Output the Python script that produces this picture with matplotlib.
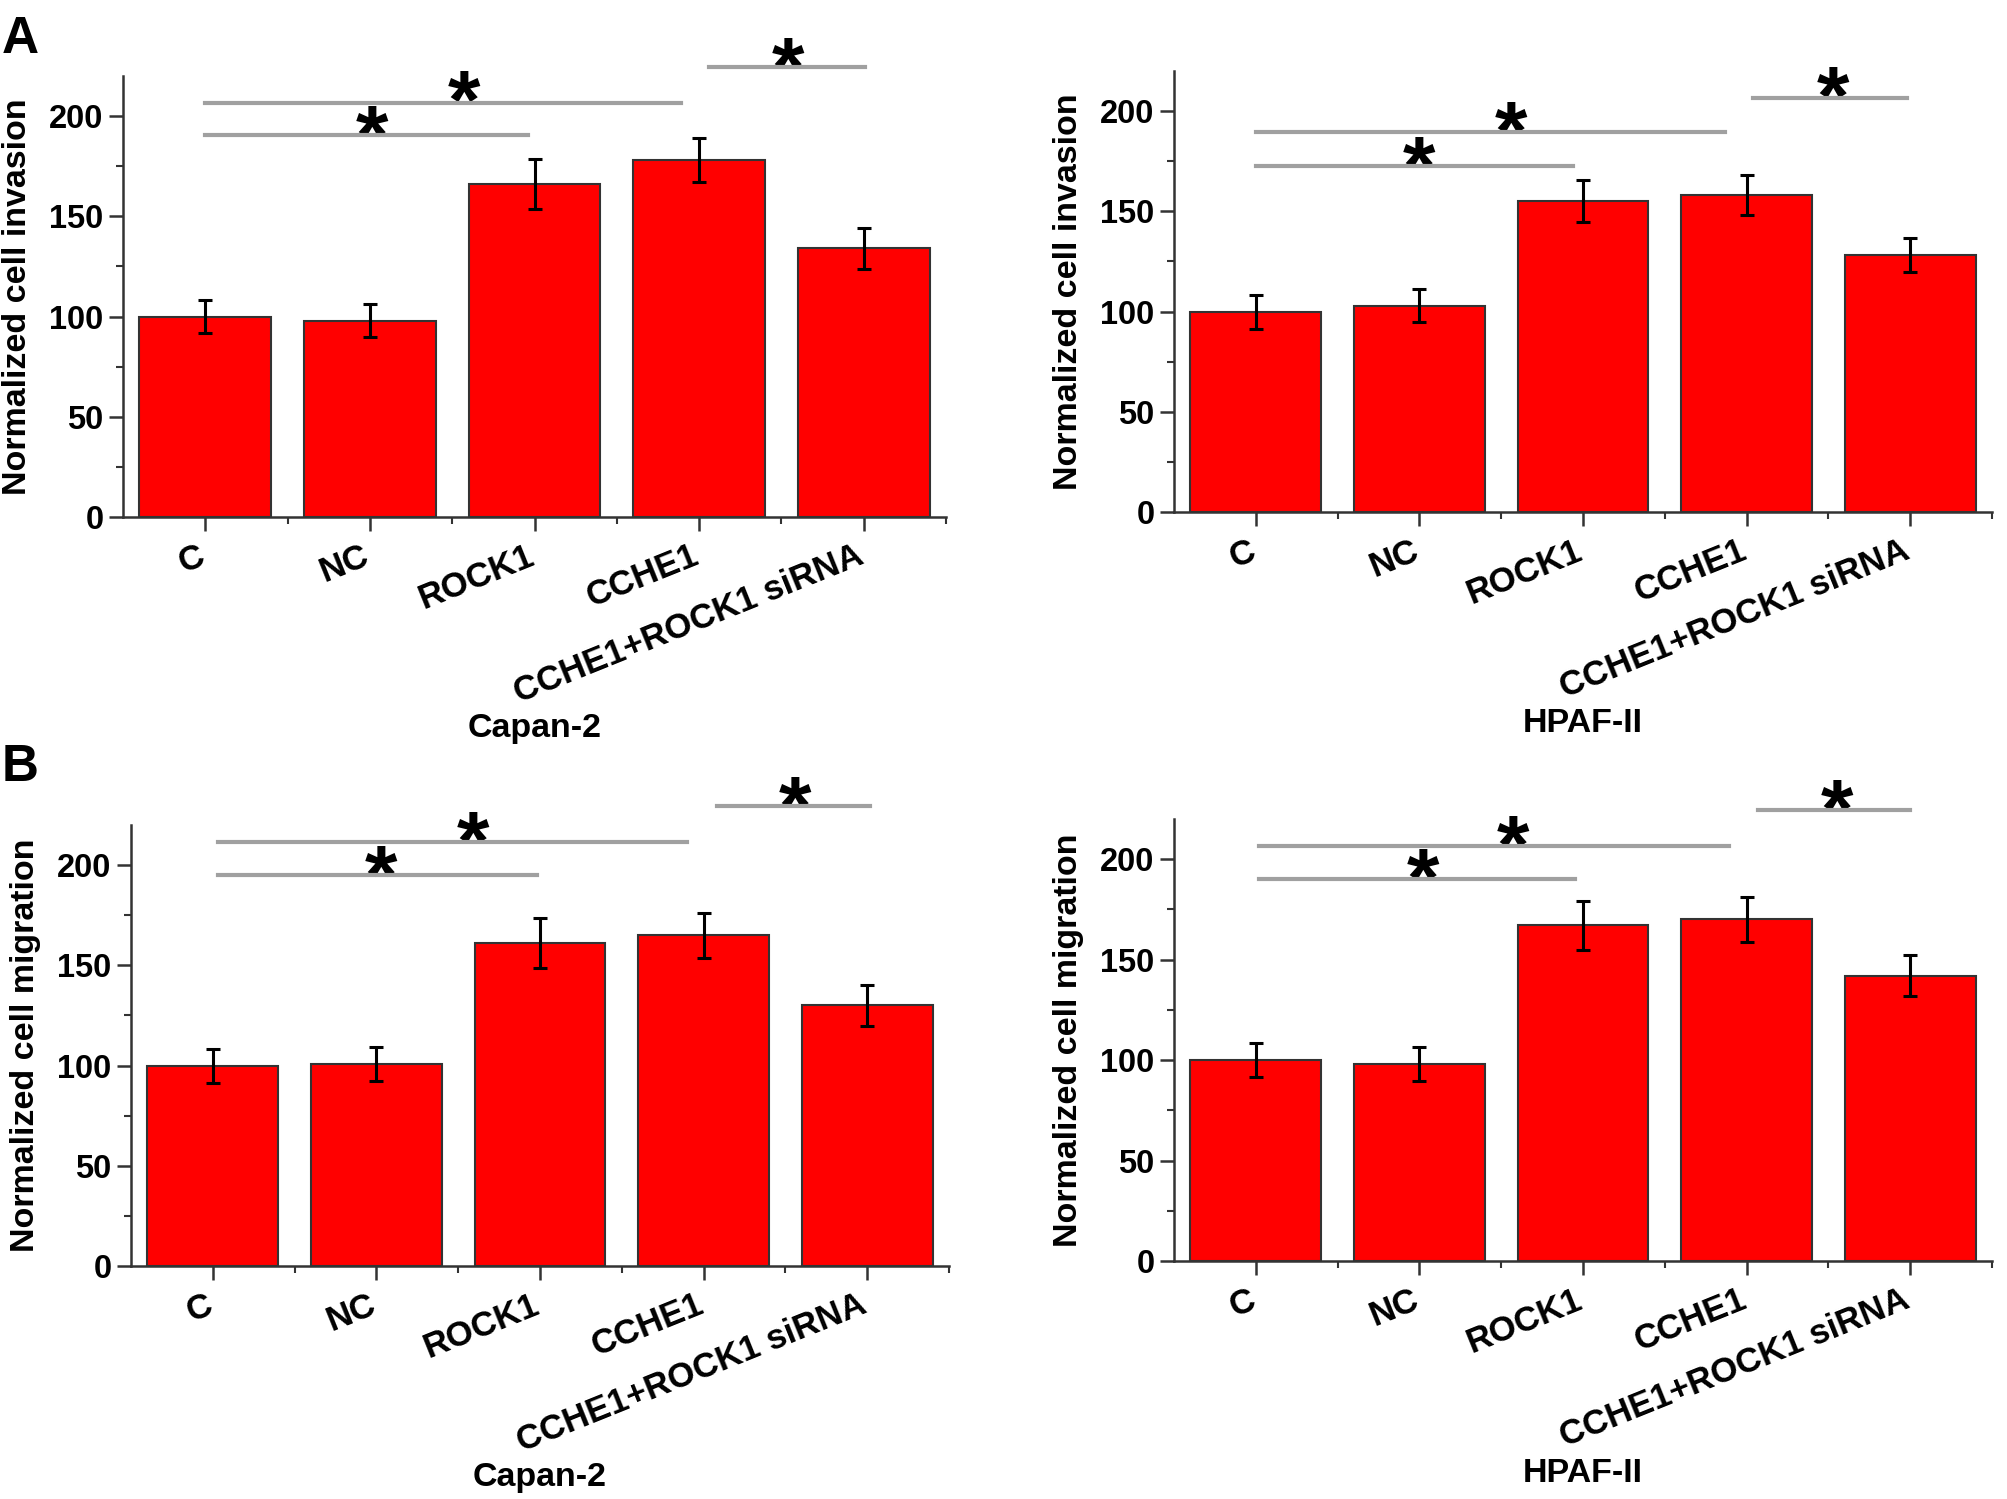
import matplotlib
matplotlib.use("Agg")
import matplotlib.pyplot as plt
import matplotlib.transforms as mtrans
from matplotlib.ticker import MultipleLocator, FixedLocator

plt.rcParams['font.family'] = ['Liberation Sans', 'DejaVu Sans']
plt.rcParams['font.weight'] = 'bold'

categories = ["C", "NC", "ROCK1", "CCHE1", "CCHE1+ROCK1 siRNA"]

inv_capan_mean = [100, 98, 166, 178, 134]
inv_capan_err = [8.3, 8.2, 12.5, 11, 10.4]
inv_hpaf_mean = [100, 103, 155, 158, 128]
inv_hpaf_err = [8.5, 8, 10.5, 10, 8.5]
mig_capan_mean = [100, 101, 161, 165, 130]
mig_capan_err = [8.5, 8.5, 12.5, 11.3, 10.4]
mig_hpaf_mean = [100, 98, 167, 170, 142]
mig_hpaf_err = [8.3, 8.3, 12, 11.2, 10.3]

# significance brackets: (x_start, x_end, y)
sig_lines_A1 = [(0.0, 1.96, 190.8), (0.0, 2.89, 206.7), (3.06, 4.01, 224.4)]
sig_stars_A1 = [(1.01, 199.8), (1.57, 217.2), (3.54, 234.0)]
sig_lines_A2 = [(0.0, 1.94, 172.7), (0.0, 2.87, 189.5), (3.04, 3.98, 206.7)]
sig_stars_A2 = [(1.0, 182.0), (1.56, 199.5), (3.53, 216.7)]
sig_lines_B1 = [(0.03, 1.98, 195.0), (0.03, 2.9, 211.5), (3.08, 4.02, 229.4)]
sig_stars_B1 = [(1.03, 204.5), (1.59, 221.5), (3.56, 239.0)]
sig_lines_B2 = [(0.02, 1.95, 190.2), (0.02, 2.89, 206.7), (3.07, 4.0, 224.6)]
sig_stars_B2 = [(1.02, 199.7), (1.57, 216.5), (3.55, 234.0)]

W, H = 2008, 1499
fig = plt.figure(figsize=(W / 100, H / 100), dpi=100)

def px_axes(l, t, r, b):
    return fig.add_axes([l / W, 1 - b / H, (r - l) / W, (b - t) / H])

panels = [
    (px_axes(123, 76, 946, 517), inv_capan_mean, inv_capan_err, "Normalized cell invasion", "Capan-2", sig_lines_A1, sig_stars_A1),
    (px_axes(1174, 71, 1992, 512), inv_hpaf_mean, inv_hpaf_err, "Normalized cell invasion", "HPAF-II", sig_lines_A2, sig_stars_A2),
    (px_axes(131, 825, 949, 1266), mig_capan_mean, mig_capan_err, "Normalized cell migration", "Capan-2", sig_lines_B1, sig_stars_B1),
    (px_axes(1174, 819, 1992, 1261), mig_hpaf_mean, mig_hpaf_err, "Normalized cell migration", "HPAF-II", sig_lines_B2, sig_stars_B2),
]

star_fs = 60
shift = mtrans.ScaledTranslation(-8 / 100, 0, fig.dpi_scale_trans)
for ax, mean, err, ylab, xlab, lines, stars in panels:
    x = list(range(len(categories)))
    ax.bar(x, mean, width=0.8, color='#ff0000', edgecolor='#333333', linewidth=1.5, zorder=2)
    ax.errorbar(x, mean, yerr=err, fmt='none', ecolor='black', elinewidth=2.2,
                capsize=5, capthick=2.2, zorder=3)
    ax.set_xlim(-0.5, 4.5)
    ax.set_ylim(0, 220)
    for s in ['top', 'right']:
        ax.spines[s].set_visible(False)
    for s in ['left', 'bottom']:
        ax.spines[s].set_linewidth(1.8)
        ax.spines[s].set_color('#333333')
    ax.yaxis.set_major_locator(FixedLocator([0, 50, 100, 150, 200]))
    ax.yaxis.set_minor_locator(MultipleLocator(25))
    ax.xaxis.set_minor_locator(FixedLocator([0.5, 1.5, 2.5, 3.5, 4.5]))
    ax.tick_params(axis='both', which='major', direction='out', length=10, width=1.8, color='#333333')
    ax.tick_params(axis='both', which='minor', direction='out', length=5, width=1.5, color='#333333')
    ax.tick_params(axis='y', which='major', labelsize=23.5, pad=4)
    ax.set_xticks(x)
    ax.set_xticklabels(categories, rotation=22, ha='right', rotation_mode='anchor',
                       fontsize=25, fontweight='bold')
    ax.tick_params(axis='x', which='major', pad=6)
    for lab in ax.get_xticklabels():
        lab.set_transform(lab.get_transform() + shift)
    for lab in ax.get_yticklabels():
        lab.set_fontweight('bold')
    ax.set_ylabel(ylab, fontsize=24.5, fontweight='bold', labelpad=12)
    ax.text(0.5, -0.48, xlab, transform=ax.transAxes, ha='center', va='center',
            fontsize=24.5, fontweight='bold')
    for x0, x1, yy in lines:
        ax.plot([x0, x1], [yy, yy], color='#a0a0a0', linewidth=3, clip_on=False, zorder=4)
    for sx, sy in stars:
        ax.annotate('*', xy=(sx, sy), xytext=(0, -0.57 * star_fs), textcoords='offset points',
                    ha='center', va='baseline', fontsize=star_fs, fontweight='bold',
                    annotation_clip=False)

fig.text(2 / W, 1 - 53 / H, 'A', fontsize=37, fontweight='bold', ha='left', va='baseline')
fig.text(2 / W, 1 - 781 / H, 'B', fontsize=37, fontweight='bold', ha='left', va='baseline')

fig.savefig('out.png', dpi=100, facecolor='white')
